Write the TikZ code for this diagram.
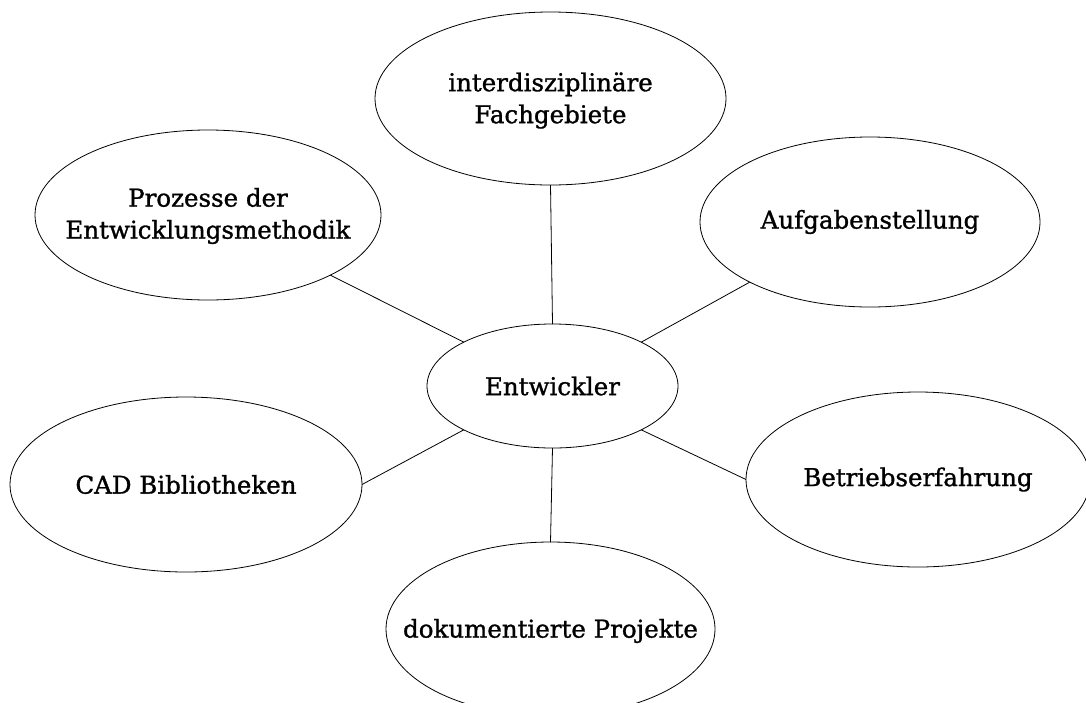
\documentclass[tikz,border=0pt]{standalone}
\usepackage{fontspec}
\setmainfont{DejaVu Serif}[BoldFont={DejaVu Serif}, BoldFeatures={FakeBold=1.2}]
\usetikzlibrary{shapes.geometric}
\begin{document}
\begin{tikzpicture}[x=1pt,y=-1pt,
  bubble/.style={ellipse, draw, line width=0.8pt, inner sep=0pt, outer sep=0pt},
  caption/.style={align=center, inner sep=0pt, font=\fontsize{24.5}{32}\selectfont\bfseries},
  link/.style={draw, line width=0.8pt}
]
\useasboundingbox (0,0) rectangle (1086,702);

% central topic
\node[bubble, minimum width=251pt, minimum height=124pt,
      label={[caption]center:Entwickler}] (dev) at (552.5,386) {};

% surrounding topics
\node[bubble, minimum width=351pt, minimum height=173pt,
      label={[caption, yshift=-2pt]center:{interdisziplinäre\\Fachgebiete}}] (fach) at (550.5,98.5) {};
\node[bubble, minimum width=346pt, minimum height=170pt,
      label={[caption, yshift=-1pt]center:{Prozesse der\\Entwicklungsmethodik}}] (proz) at (208,215) {};
\node[bubble, minimum width=340pt, minimum height=170pt,
      label={[caption]center:Aufgabenstellung}] (aufg) at (870,222) {};
\node[bubble, minimum width=352pt, minimum height=175pt,
      label={[caption]center:CAD Bibliotheken}] (cad) at (186,484.5) {};
\node[bubble, minimum width=344pt, minimum height=175pt,
      label={[caption]center:Betriebserfahrung}] (betr) at (918,479.5) {};
\node[bubble, minimum width=329pt, minimum height=174pt,
      label={[caption, yshift=-2pt]center:dokumentierte Projekte}] (doku) at (550.5,629) {};

% spokes
\path[link] (dev.north) -- (fach.south);
\path[link] (dev.north west) -- (proz.south east);
\path[link] (dev.north east) -- (aufg.south west);
\path[link] (dev.south west) -- (cad.east);
\path[link] (dev.south east) -- (betr.west);
\path[link] (dev.south) -- (doku.north);
\end{tikzpicture}
\end{document}
